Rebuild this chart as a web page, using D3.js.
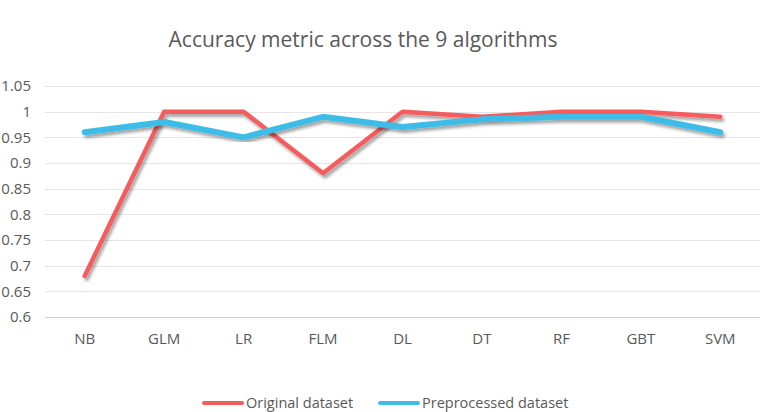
<!DOCTYPE html>
<html>
<head>
<meta charset="utf-8">
<script src="https://cdn.jsdelivr.net/npm/d3@7"></script>
<style>
  body { margin: 0; background: #fff; }
  text { font-family: "Open Sans", sans-serif; fill: #595959; }
</style>
</head>
<body>
<script>
// chart data
var algorithms = ["NB", "GLM", "LR", "FLM", "DL", "DT", "RF", "GBT", "SVM"];
var originalValues = [0.68, 1.0, 1.0, 0.88, 1.0, 0.99, 1.0, 1.0, 0.99];
var preprocessedValues = [0.96, 0.98, 0.95, 0.99, 0.97, 0.985, 0.99, 0.99, 0.96];
var yTicks = [0.6, 0.65, 0.7, 0.75, 0.8, 0.85, 0.9, 0.95, 1, 1.05];
var seriesNames = ["Original dataset", "Preprocessed dataset"];
var seriesColors = ["#f45b5d", "#3cbce7"];

var width = 760, height = 412;
var margin = {left: 45, right: 0, top: 86, bottom: 95};

var svg = d3.select("body").append("svg")
    .attr("width", width)
    .attr("height", height);

// shadow under the lines
var defs = svg.append("defs");
var f = defs.append("filter").attr("id", "shadow")
    .attr("x", "-10%").attr("y", "-10%").attr("width", "120%").attr("height", "130%");
f.append("feDropShadow")
    .attr("dx", 2).attr("dy", 3).attr("stdDeviation", 1.5)
    .attr("flood-color", "#000").attr("flood-opacity", 0.35);

var x = d3.scaleBand()
    .domain(algorithms)
    .range([margin.left, width - margin.right]);

var y = d3.scaleLinear()
    .domain([0.6, 1.05])
    .range([height - margin.bottom, margin.top]);

// title
svg.append("text")
    .attr("x", 363)
    .attr("y", 47)
    .attr("text-anchor", "middle")
    .style("font-size", "21px")
    .text("Accuracy metric across the 9 algorithms");

// gridlines
svg.append("g")
    .selectAll("line")
    .data(yTicks)
    .enter().append("line")
    .attr("x1", margin.left)
    .attr("x2", width - margin.right)
    .attr("y1", function(d) { return Math.round(y(d)) + 0.5; })
    .attr("y2", function(d) { return Math.round(y(d)) + 0.5; })
    .attr("stroke", function(d) { return d == 0.6 ? "#d0d0d0" : "#e6e6e6"; })
    .attr("stroke-width", 1);

// y axis labels
var yAxis = svg.append("g")
    .attr("transform", "translate(" + (margin.left - 14) + ",0)")
    .call(d3.axisLeft(y).tickValues(yTicks).tickSize(0).tickPadding(0)
        .tickFormat(function(d) { return String(+d.toFixed(2)); }));
yAxis.select(".domain").remove();
yAxis.selectAll("text")
    .style("font-size", "15px")
    .style("font-family", "Open Sans, sans-serif")
    .attr("fill", "#595959");

// x axis labels
var xAxis = svg.append("g")
    .attr("transform", "translate(0," + (height - margin.bottom) + ")")
    .call(d3.axisBottom(x).tickSize(0).tickPadding(16));
xAxis.select(".domain").remove();
xAxis.selectAll("text")
    .style("font-size", "15px")
    .style("font-family", "Open Sans, sans-serif")
    .attr("fill", "#595959");

var line = d3.line()
    .x(function(d, i) { return x(algorithms[i]) + x.bandwidth() / 2; })
    .y(function(d) { return y(d); });

[originalValues, preprocessedValues].forEach(function(vals, i) {
    svg.append("path")
        .datum(vals)
        .attr("fill", "none")
        .attr("stroke", seriesColors[i])
        .attr("stroke-width", i == 0 ? 4.5 : 6)
        .attr("stroke-linecap", "round")
        .attr("stroke-linejoin", "round")
        .attr("filter", "url(#shadow)")
        .attr("d", line);
});

// legend
var legendX = [204, 380];
var lg = svg.append("g");
seriesNames.forEach(function(name, i) {
    lg.append("line")
        .attr("x1", legendX[i]).attr("x2", legendX[i] + 38)
        .attr("y1", 403).attr("y2", 403)
        .attr("stroke", seriesColors[i])
        .attr("stroke-width", 4)
        .attr("stroke-linecap", "round");
    lg.append("text")
        .attr("x", legendX[i] + 42)
        .attr("y", 408)
        .style("font-size", "14.5px")
        .text(name);
});
</script>
</body>
</html>
